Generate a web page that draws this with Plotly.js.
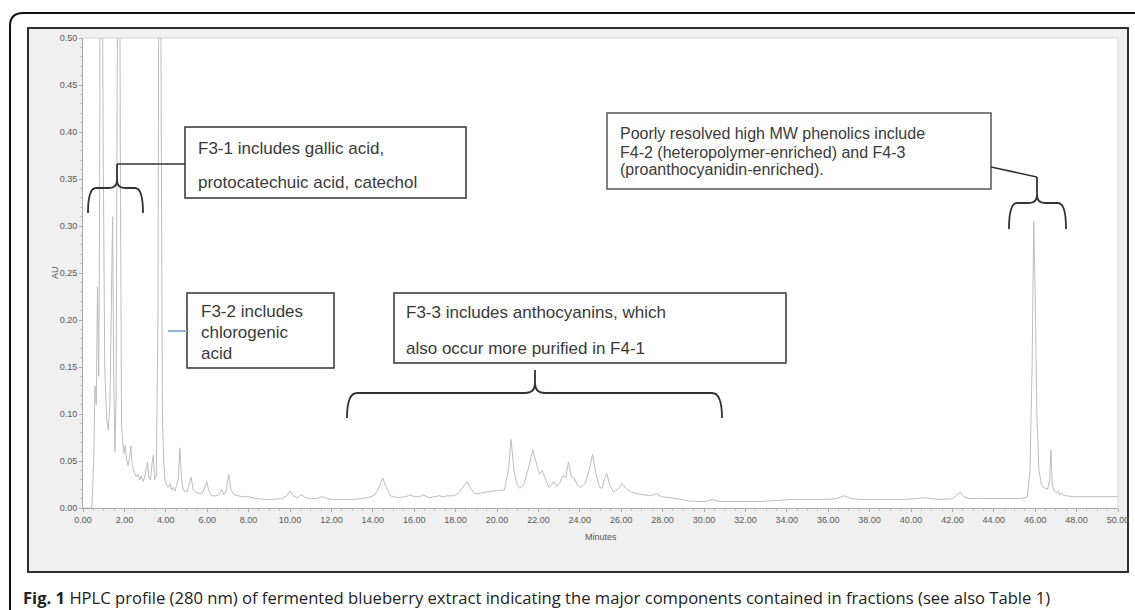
<!DOCTYPE html>
<html>
<head>
<meta charset="utf-8">
<script src="https://cdn.plot.ly/plotly-3.0.1.min.js"></script>
<style>html,body{margin:0;padding:0;background:#fff;}#chart{width:1135px;height:610px;}</style>
</head>
<body>
<div id="chart"></div>
<script>
// Retention time (minutes) and absorbance (AU)
const minutes = [0.00,0.42,0.47,0.52,0.58,0.64,0.70,0.76,0.80,0.86,0.92,0.97,1.05,1.14,1.22,1.30,1.38,1.43,1.48,1.54,1.60,1.68,1.73,1.80,1.86,1.92,1.98,2.04,2.10,2.18,2.26,2.31,2.38,2.48,2.58,2.66,2.74,2.82,2.90,2.98,3.06,3.12,3.18,3.26,3.34,3.40,3.46,3.54,3.62,3.70,3.78,3.84,3.90,3.96,4.04,4.12,4.20,4.28,4.36,4.44,4.52,4.60,4.68,4.76,4.84,4.94,5.04,5.14,5.22,5.32,5.44,5.56,5.68,5.80,5.92,5.98,6.08,6.22,6.40,6.56,6.70,6.80,6.92,7.04,7.14,7.30,7.50,7.70,8.00,8.40,8.80,9.20,9.60,9.85,10.00,10.15,10.35,10.55,10.75,11.00,11.30,11.55,11.80,12.10,12.50,13.00,13.40,13.80,14.10,14.30,14.48,14.65,14.85,15.20,15.60,15.80,16.00,16.25,16.45,16.70,17.00,17.20,17.40,17.60,17.90,18.10,18.35,18.55,18.75,18.95,19.20,19.50,19.80,20.10,20.35,20.55,20.68,20.82,20.95,21.10,21.30,21.55,21.72,21.88,22.05,22.18,22.35,22.50,22.62,22.75,22.90,23.05,23.20,23.32,23.45,23.58,23.72,23.90,24.05,24.25,24.45,24.62,24.78,24.95,25.08,25.18,25.30,25.45,25.62,25.85,26.05,26.25,26.50,26.80,27.10,27.40,27.70,27.95,28.30,28.70,29.10,29.60,30.10,30.40,30.70,31.20,32.00,32.80,33.50,34.20,35.00,35.80,36.40,36.75,37.10,37.60,38.50,39.50,40.30,40.60,40.95,41.50,42.00,42.20,42.38,42.56,42.80,43.50,44.50,45.30,45.62,45.75,45.85,45.93,46.00,46.08,46.18,46.30,46.45,46.60,46.70,46.76,46.82,46.92,47.02,47.10,47.18,47.28,47.38,47.55,47.80,48.50,49.30,50.00];
const absorbance = [0.000,0.000,0.020,0.055,0.130,0.110,0.235,0.140,0.300,0.950,0.700,0.400,0.150,0.095,0.083,0.110,0.250,0.310,0.150,0.060,0.120,0.700,0.950,0.400,0.090,0.070,0.058,0.067,0.052,0.045,0.055,0.066,0.045,0.038,0.033,0.036,0.030,0.034,0.028,0.033,0.042,0.049,0.032,0.030,0.048,0.056,0.030,0.035,0.200,0.900,0.400,0.090,0.050,0.030,0.024,0.022,0.026,0.019,0.022,0.018,0.024,0.030,0.064,0.030,0.020,0.017,0.018,0.026,0.033,0.020,0.017,0.016,0.015,0.017,0.026,0.028,0.018,0.013,0.013,0.014,0.020,0.014,0.018,0.036,0.020,0.014,0.013,0.012,0.012,0.010,0.009,0.009,0.010,0.013,0.018,0.013,0.011,0.014,0.011,0.010,0.010,0.012,0.010,0.009,0.009,0.009,0.010,0.011,0.014,0.022,0.032,0.022,0.013,0.011,0.012,0.014,0.012,0.012,0.014,0.011,0.012,0.013,0.012,0.013,0.013,0.015,0.022,0.028,0.020,0.015,0.016,0.017,0.018,0.019,0.019,0.040,0.073,0.040,0.026,0.021,0.025,0.045,0.062,0.048,0.036,0.040,0.030,0.022,0.024,0.028,0.023,0.027,0.035,0.032,0.049,0.034,0.032,0.024,0.022,0.026,0.040,0.057,0.036,0.022,0.021,0.030,0.037,0.024,0.017,0.020,0.026,0.020,0.017,0.015,0.014,0.013,0.015,0.012,0.011,0.010,0.008,0.007,0.007,0.009,0.007,0.007,0.007,0.007,0.008,0.009,0.009,0.009,0.010,0.013,0.010,0.009,0.009,0.009,0.010,0.011,0.010,0.009,0.010,0.014,0.017,0.012,0.010,0.010,0.010,0.010,0.012,0.040,0.150,0.305,0.230,0.100,0.040,0.025,0.021,0.020,0.030,0.062,0.025,0.018,0.016,0.018,0.014,0.016,0.013,0.013,0.012,0.012,0.012,0.012];

const xTickVals = [0,2,4,6,8,10,12,14,16,18,20,22,24,26,28,30,32,34,36,38,40,42,44,46,48,50];
const xTickText = xTickVals.map(v => v.toFixed(2));
const yTickVals = [0,0.05,0.10,0.15,0.20,0.25,0.30,0.35,0.40,0.45,0.50];
const yTickText = yTickVals.map(v => v.toFixed(2));

const boxText1 = ["F3-1 includes gallic acid,", "protocatechuic acid, catechol"];
const boxText2 = ["F3-2 includes", "chlorogenic", "acid"];
const boxText3 = ["F3-3 includes anthocyanins, which", "also occur more purified in F4-1"];
const boxText4 = ["Poorly resolved high MW phenolics include", "F4-2 (heteropolymer-enriched) and F4-3", "(proanthocyanidin-enriched)."];
const captionBold = "Fig. 1";
const captionText = " HPLC profile (280 nm) of fermented blueberry extract indicating the major components contained in fractions (see also Table 1)";

// pixel -> paper helpers for the decorative layout
const L = 83, R = 1118, T = 38, B = 508;
const px = x => (x - L) / (R - L);
const py = y => (B - y) / (B - T);
const P = (x, y) => px(x).toFixed(5) + ',' + py(y).toFixed(5);

function brace(x1, x2, xt, yTip, yBar, yEnd, r) {
  return 'M' + P(x1, yEnd) + ' Q' + P(x1, yBar) + ' ' + P(x1 + r, yBar) +
    ' L' + P(xt - r, yBar) + ' Q' + P(xt, yBar) + ' ' + P(xt, yBar - r) +
    ' L' + P(xt, yTip) + ' L' + P(xt, yBar - r) +
    ' Q' + P(xt, yBar) + ' ' + P(xt + r, yBar) +
    ' L' + P(x2 - r, yBar) + ' Q' + P(x2, yBar) + ' ' + P(x2, yEnd);
}

const ink = '#333333';
const shapes = [
  // grey figure panel
  {type:'rect', xref:'paper', yref:'paper', layer:'below', x0:px(28), x1:px(1128), y0:py(572), y1:py(28), fillcolor:'#f0f0f0', line:{color:'#2e2e2e', width:2}},
  // white plotting area
  {type:'rect', xref:'paper', yref:'paper', layer:'below', x0:0, x1:1, y0:0, y1:1, fillcolor:'#ffffff', line:{width:0}},
  {type:'line', xref:'paper', yref:'paper', layer:'below', x0:0, x1:1, y0:1, y1:1, line:{color:'#d8d8d8', width:1}},
  {type:'line', xref:'paper', yref:'paper', layer:'below', x0:1, x1:1, y0:0, y1:1, line:{color:'#d8d8d8', width:1}},
  // outer rounded frame
  {type:'path', xref:'paper', yref:'paper', path:'M' + P(10, 640) + ' L' + P(10, 26) + ' Q' + P(10, 13) + ' ' + P(23, 13) + ' L' + P(1160, 13), line:{color:'#111', width:2}},
  // boxes
  {type:'rect', xref:'paper', yref:'paper', x0:px(185), x1:px(466), y0:py(198), y1:py(127), fillcolor:'#fff', line:{color:ink, width:1.5}},
  {type:'rect', xref:'paper', yref:'paper', x0:px(187), x1:px(334), y0:py(368), y1:py(293), fillcolor:'#fff', line:{color:ink, width:1.5}},
  {type:'rect', xref:'paper', yref:'paper', x0:px(394), x1:px(786), y0:py(363), y1:py(293), fillcolor:'#fff', line:{color:ink, width:1.5}},
  {type:'rect', xref:'paper', yref:'paper', x0:px(607), x1:px(991), y0:py(189), y1:py(113), fillcolor:'#fff', line:{color:'#555', width:1.5}},
  // connectors
  {type:'line', xref:'paper', yref:'paper', x0:px(117), x1:px(185), y0:py(164), y1:py(164), line:{color:ink, width:1.5}},
  {type:'line', xref:'paper', yref:'paper', x0:px(168), x1:px(187), y0:py(331), y1:py(331), line:{color:'#8fb4d9', width:2}},
  {type:'line', xref:'paper', yref:'paper', x0:px(991), x1:px(1037), y0:py(167), y1:py(177), line:{color:ink, width:1.5}},
  // braces
  {type:'path', xref:'paper', yref:'paper', path:brace(88, 143, 117, 164, 188, 213, 8), line:{color:ink, width:1.8}},
  {type:'path', xref:'paper', yref:'paper', path:brace(347, 722, 535, 370, 393, 418, 10), line:{color:ink, width:1.8}},
  {type:'path', xref:'paper', yref:'paper', path:brace(1009, 1066, 1037, 177, 203, 229, 8), line:{color:ink, width:1.8}}
];

const boxFont = {family:'Liberation Sans, Arial, sans-serif', size:17, color:'#3a3a3a'};
const annotations = [];
function addLines(lines, x, ys, font) {
  lines.forEach((t, i) => annotations.push({xref:'paper', yref:'paper', x:px(x), y:py(ys[i]), xanchor:'left', yanchor:'middle', text:t, showarrow:false, font:font}));
}
addLines(boxText1, 196, [148, 183], boxFont);
addLines(boxText2, 199, [311, 332, 353], boxFont);
addLines(boxText3, 404, [312, 348], boxFont);
addLines(boxText4, 618, [133, 152, 170], {family:'Liberation Sans, Arial, sans-serif', size:16, color:'#3a3a3a'});
annotations.push({xref:'paper', yref:'paper', x:0.5, y:py(537), xanchor:'center', yanchor:'middle', text:'Minutes', showarrow:false, font:{family:'Liberation Sans, Arial, sans-serif', size:9, color:'#555'}});
annotations.push({xref:'paper', yref:'paper', x:px(55), y:0.5, xanchor:'center', yanchor:'middle', text:'AU', textangle:-90, showarrow:false, font:{family:'Liberation Sans, Arial, sans-serif', size:9, color:'#555'}});
annotations.push({xref:'paper', yref:'paper', x:px(21), y:py(597), xanchor:'left', yanchor:'middle', showarrow:false,
  text:'<b>' + captionBold + '</b>' + captionText, font:{family:'Open Sans, sans-serif', size:16.6, color:'#222'}});

const trace = {x:minutes, y:absorbance, type:'scatter', mode:'lines', line:{color:'#bdbdbd', width:1}, hoverinfo:'skip'};

const axisFont = {family:'Liberation Sans, Arial, sans-serif', size:9, color:'#555'};
const layout = {
  width:1135, height:610,
  margin:{l:L, r:1135 - R, t:T, b:610 - B, pad:0},
  paper_bgcolor:'#ffffff', plot_bgcolor:'#ffffff',
  showlegend:false,
  xaxis:{range:[0,50], tickvals:xTickVals, ticktext:xTickText, tickfont:axisFont, showgrid:false, zeroline:false,
    showline:true, linecolor:'#aaaaaa', linewidth:1, ticks:'outside', ticklen:3, tickcolor:'#aaaaaa',
    minor:{tickvals:Array.from({length:101}, (_, i) => i * 0.5), ticks:'outside', ticklen:2, tickcolor:'#c8c8c8'}, fixedrange:true},
  yaxis:{range:[0,0.5], tickvals:yTickVals, ticktext:yTickText, tickfont:axisFont, showgrid:false, zeroline:false,
    showline:true, linecolor:'#aaaaaa', linewidth:1, ticks:'outside', ticklen:3, tickcolor:'#aaaaaa',
    minor:{tickvals:Array.from({length:51}, (_, i) => i * 0.01), ticks:'outside', ticklen:2, tickcolor:'#c8c8c8'}, fixedrange:true},
  shapes:shapes,
  annotations:annotations
};

Plotly.newPlot('chart', [trace], layout, {displayModeBar:false, staticPlot:true});
</script>
</body>
</html>
